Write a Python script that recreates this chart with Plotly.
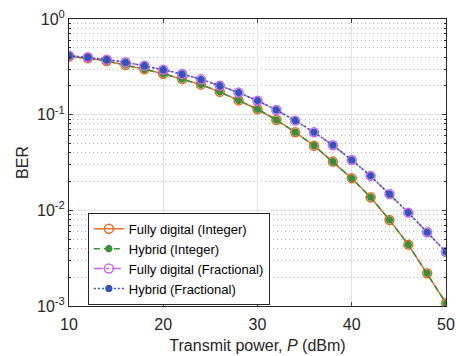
import plotly.graph_objects as go

power_dbm = [10, 12, 14, 16, 18, 20, 22, 24, 26, 28, 30, 32, 34, 36, 38, 40, 42, 44, 46, 48, 50]
ber_integer = [0.404, 0.388, 0.364, 0.331, 0.298, 0.268, 0.236, 0.206, 0.173, 0.141, 0.114,
               0.088, 0.0655, 0.0474, 0.0323, 0.0216, 0.0137, 0.00794, 0.00438, 0.0022, 0.00107]
ber_fractional = [0.414, 0.398, 0.376, 0.353, 0.325, 0.295, 0.266, 0.234, 0.201, 0.170, 0.140,
                  0.112, 0.0866, 0.0655, 0.0479, 0.0336, 0.0229, 0.0148, 0.00946, 0.0059, 0.00367]
series_names = ["Fully digital (Integer)", "Hybrid (Integer)",
                "Fully digital (Fractional)", "Hybrid (Fractional)"]
y_tick_vals = [1e-3, 1e-2, 1e-1, 1]
y_tick_text = ["10<sup>-3</sup>", "10<sup>-2</sup>", "10<sup>-1</sup>", "10<sup>0</sup>"]
x_tick_vals = [10, 20, 30, 40, 50]

FONT = "Liberation Sans, Arial, sans-serif"

fig = go.Figure()
fig.add_trace(go.Scatter(x=power_dbm, y=ber_integer, name=series_names[0], mode="lines+markers",
                         line=dict(color="#E07028", width=1.5, dash="solid"),
                         marker=dict(symbol="circle-open", size=9, color="#E07028", line=dict(width=1.5))))
fig.add_trace(go.Scatter(x=power_dbm, y=ber_integer, name=series_names[1], mode="lines+markers",
                         line=dict(color="#3A8E3A", width=1.5, dash="6px,4px"),
                         marker=dict(symbol="asterisk-open", size=6, color="#3A8E3A", line=dict(width=2.5, color="#3A8E3A"))))
fig.add_trace(go.Scatter(x=power_dbm, y=ber_fractional, name=series_names[2], mode="lines+markers",
                         line=dict(color="#CC66EE", width=1.5, dash="dashdot"),
                         marker=dict(symbol="circle-open", size=9, color="#CC66EE", line=dict(width=1.5))))
fig.add_trace(go.Scatter(x=power_dbm, y=ber_fractional, name=series_names[3], mode="lines+markers",
                         line=dict(color="#3355BB", width=1.5, dash="2px,2px"),
                         marker=dict(symbol="asterisk-open", size=6, color="#3355BB", line=dict(width=2.5, color="#3355BB"))))

tick_font = dict(family=FONT, size=16, color="#262626")
fig.update_layout(
    width=456, height=356,
    margin=dict(l=69, r=10, t=19, b=50, autoexpand=False),
    paper_bgcolor="white", plot_bgcolor="white",
    font=dict(family=FONT, size=14, color="#262626"),
    showlegend=True,
    legend=dict(x=0.05, y=0.004, xanchor="left", yanchor="bottom",
                bgcolor="white", bordercolor="#262626", borderwidth=1,
                font=dict(family=FONT, size=13, color="#000000"),
                tracegroupgap=0, itemwidth=30),
    xaxis=dict(range=[10, 50], tickvals=x_tick_vals, ticks="inside", ticklen=4,
               showline=True, linecolor="#262626", linewidth=1, mirror="ticks",
               showgrid=True, gridcolor="#E2E2E2", gridwidth=1, zeroline=False,
               ticklabelstandoff=4, automargin=False,
               title=dict(text="Transmit power, <i>P</i> (dBm)", standoff=7,
                          font=dict(family=FONT, size=16, color="#262626")),
               tickfont=tick_font),
    yaxis=dict(type="log", range=[-3, 0], tickvals=y_tick_vals, ticktext=y_tick_text,
               ticks="inside", ticklen=4, automargin=False,
               showline=True, linecolor="#262626", linewidth=1, mirror="ticks",
               showgrid=True, gridcolor="#E2E2E2", gridwidth=1, zeroline=False,
               minor=dict(tickvals=[m * 10 ** e for e in (-3, -2, -1) for m in range(2, 10)],
                          ticks="inside", ticklen=2, tickcolor="#262626",
                          showgrid=True, gridcolor="#B8B8B8", griddash="1px,3px", gridwidth=1),
               title=dict(text="BER", standoff=4,
                          font=dict(family=FONT, size=16, color="#262626")),
               tickfont=tick_font),
)
fig.write_html("out.html", config={"displayModeBar": False},
               post_script="document.body.style.margin='0';document.body.style.padding='0';")
